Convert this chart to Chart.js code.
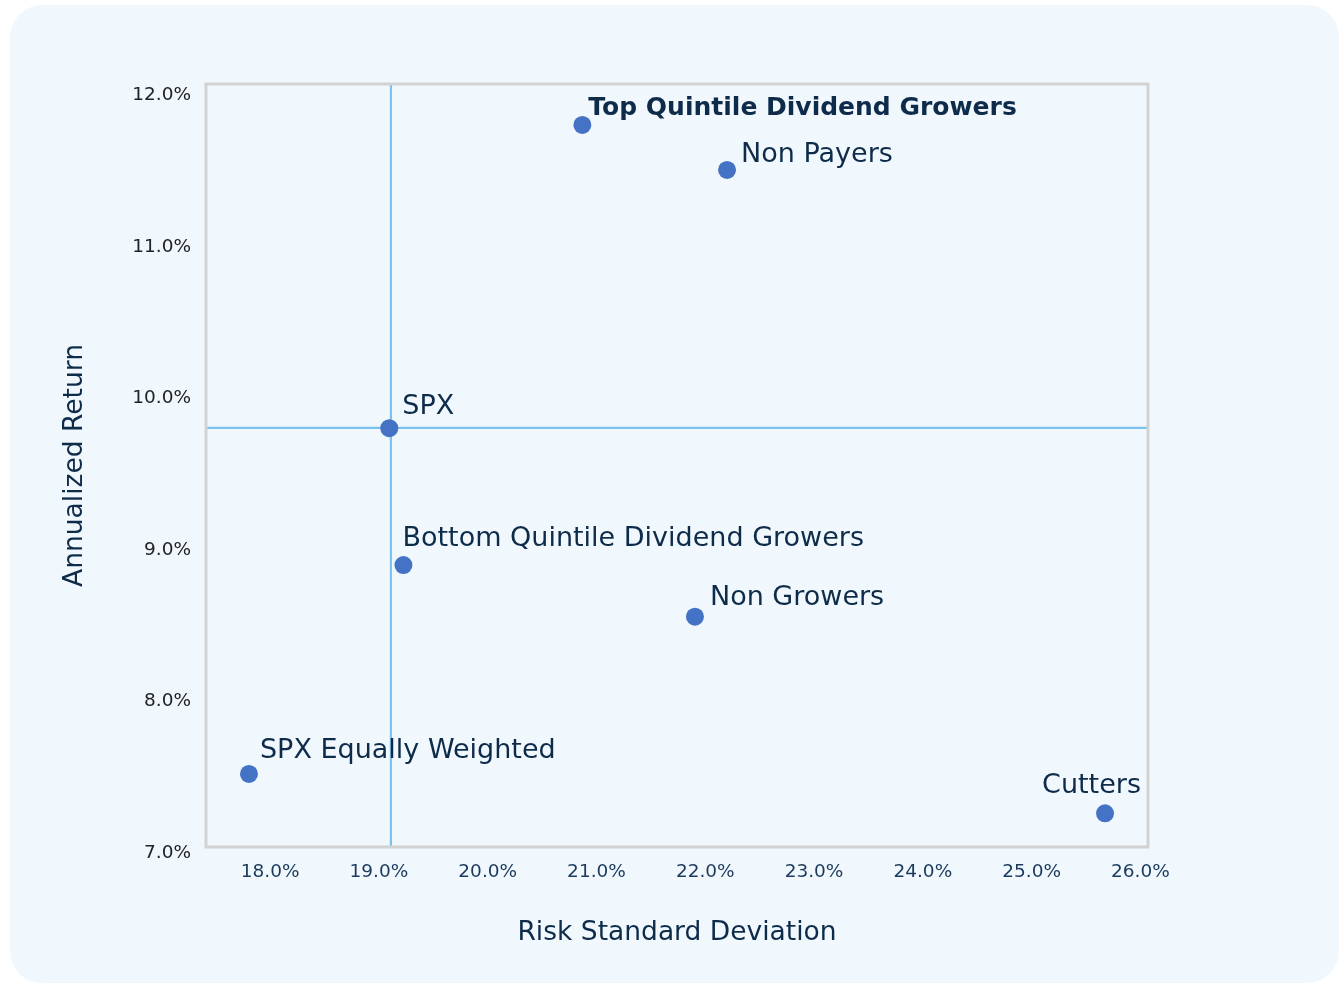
<!DOCTYPE html>
<html><head><meta charset="utf-8">
<script src="https://cdn.jsdelivr.net/npm/chart.js@4.4.0/dist/chart.umd.min.js"></script>
<style>
html,body{margin:0;padding:0;background:#ffffff;width:1339px;height:983px;overflow:hidden}
#bg{position:absolute;left:10px;top:5px;width:1329px;height:978px;background:#f0f8fe;border-radius:32px}
#wrap{position:absolute;left:0;top:0;width:1339px;height:983px}
</style></head><body>
<div id="bg"></div>
<div id="wrap"><canvas id="c" width="1339" height="983"></canvas></div>
<script>
// ---- data ----
const names = ["Top Quintile Dividend Growers", "Non Payers", "SPX", "Bottom Quintile Dividend Growers", "Non Growers", "SPX Equally Weighted", "Cutters"];
const riskStdDev = [20.87, 22.20, 19.095, 19.225, 21.905, 17.805, 25.675];
const annualReturn = [11.766, 11.469, 9.764, 8.861, 8.52, 7.482, 7.222];
const xTicks = [18, 19, 20, 21, 22, 23, 24, 25, 26];
const yTicks = [7, 8, 9, 10, 11, 12];
const spxRefX = 19.11;
const spxRefY = 9.766;
const xRange = [17.41, 26.07];
const yRange = [7.0, 12.036];
// ---- label styling (offset of text left/baseline from point) ----
const labelOffsets = [[6, -10], [14, -8], [13, -14], [-1, -19], [15, -12], [11, -16], [-63, -20]];
const boldLabels = [true, false, false, false, false, false, false];

const FONT = "'DejaVu Sans', sans-serif";
const NAVY = "#0e2c4a";
Chart.defaults.font.family = FONT;

const overlay = {
  id: 'overlay',
  afterDatasetsDraw(chart) {
    const {ctx, chartArea: a} = chart;
    ctx.save();
    ctx.strokeStyle = '#d2d2d2';
    ctx.lineWidth = 3;
    ctx.strokeRect(a.left, a.top, a.right - a.left, a.bottom - a.top);
    const meta = chart.getDatasetMeta(2);
    ctx.fillStyle = NAVY;
    ctx.textAlign = 'left';
    ctx.textBaseline = 'alphabetic';
    meta.data.forEach((pt, i) => {
      ctx.font = boldLabels[i] ? "bold 25px " + FONT : "27px " + FONT;
      ctx.fillText(names[i], pt.x + labelOffsets[i][0], pt.y + labelOffsets[i][1]);
    });
    ctx.restore();
  }
};

new Chart(document.getElementById('c'), {
  type: 'scatter',
  data: {
    datasets: [
      {
        data: [{x: spxRefX, y: yRange[0]}, {x: spxRefX, y: yRange[1]}],
        showLine: true, pointRadius: 0, borderColor: '#7cc2ef', borderWidth: 2.2, order: 3
      },
      {
        data: [{x: xRange[0], y: spxRefY}, {x: xRange[1], y: spxRefY}],
        showLine: true, pointRadius: 0, borderColor: '#7cc2ef', borderWidth: 2.2, order: 2
      },
      {
        data: names.map((n, i) => ({x: riskStdDev[i], y: annualReturn[i]})),
        pointRadius: 9, pointBorderWidth: 0, backgroundColor: '#4472c4', borderColor: '#4472c4', order: 1
      }
    ]
  },
  options: {
    responsive: false,
    animation: false,
    devicePixelRatio: 1,
    layout: {padding: {left: 0, top: 84, right: 191, bottom: 0}},
    plugins: {legend: {display: false}, tooltip: {enabled: false}},
    scales: {
      x: {
        type: 'linear', position: 'bottom', min: xRange[0], max: xRange[1],
        afterBuildTicks: s => { s.ticks = xTicks.map(v => ({value: v})); },
        afterFit: s => { s.height = 136; },
        grid: {display: false, drawTicks: false},
        border: {display: false},
        ticks: {callback: v => v.toFixed(1) + '%', font: {size: 18.5}, color: '#1b3a5c', padding: 14, maxRotation: 0, autoSkip: false},
        title: {display: true, text: 'Risk Standard Deviation', color: NAVY, font: {size: 26.5}, padding: {top: 0, bottom: 34}}
      },
      y: {
        type: 'linear', position: 'left', min: yRange[0], max: yRange[1],
        afterBuildTicks: s => { s.ticks = yTicks.map(v => ({value: v})); },
        afterFit: s => { s.width = 206; },
        grid: {display: false, drawTicks: false},
        border: {display: false},
        ticks: {callback: v => v.toFixed(1) + '%', font: {size: 18.5}, color: '#222222', padding: 15, labelOffset: 6, autoSkip: false},
        title: {display: true, text: 'Annualized Return', color: NAVY, font: {size: 26.5}, padding: {top: 59, bottom: 0}}
      }
    }
  },
  plugins: [overlay]
});
</script>
</body></html>
